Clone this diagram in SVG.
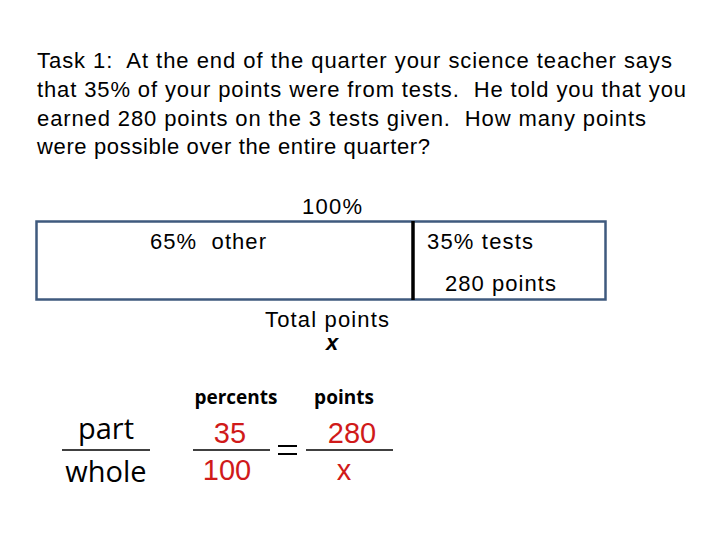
<svg xmlns="http://www.w3.org/2000/svg" width="720" height="540" viewBox="0 0 720 540">
<style>
.t{font-family:"Liberation Sans",Arial,sans-serif;font-size:22px;fill:#000;white-space:pre}
.c{font-family:"Open Sans","Noto Sans",sans-serif;fill:#000}
.r{font-family:"Liberation Sans",Arial,sans-serif;font-size:29px;fill:#d01a1a}
.ln{stroke:#000;stroke-width:1.5}
</style>
<rect width="720" height="540" fill="#fff"/>
<g id="title">
<text class="t" x="37" y="68" textLength="635" lengthAdjust="spacing">Task 1:  At the end of the quarter your science teacher says</text>
<text class="t" x="37" y="97" textLength="649" lengthAdjust="spacing">that 35% of your points were from tests.  He told you that you</text>
<text class="t" x="37" y="126" textLength="609" lengthAdjust="spacing">earned 280 points on the 3 tests given.  How many points</text>
<text class="t" x="37" y="154" textLength="393" lengthAdjust="spacing">were possible over the entire quarter?</text>
</g>
<g id="bar">
<rect x="36.5" y="221.5" width="569" height="78" fill="none" stroke="#3f5a7e" stroke-width="2.5"/>
<line x1="413" y1="221" x2="413" y2="300" stroke="#000" stroke-width="3.5"/>
<text class="t" x="302" y="214" textLength="60" lengthAdjust="spacing">100%</text>
<text class="t" x="150" y="249" textLength="116" lengthAdjust="spacing">65%  other</text>
<text class="t" x="427" y="249" textLength="106" lengthAdjust="spacing">35% tests</text>
<text class="t" x="445" y="291" textLength="111" lengthAdjust="spacing">280 points</text>
<text class="t" x="265" y="327" textLength="124" lengthAdjust="spacing">Total points</text>
<text class="t" x="326" y="350" font-weight="bold" font-style="italic">x</text>
</g>
<g id="formula">
<text class="c" x="106" y="439" font-size="29" text-anchor="middle">part</text>
<line class="ln" x1="62" y1="450" x2="150" y2="450"/>
<text class="c" x="106" y="482" font-size="29" text-anchor="middle">whole</text>
<text class="c" x="236" y="404" font-size="19" font-weight="bold" text-anchor="middle">percents</text>
<text class="c" x="344" y="404" font-size="19" font-weight="bold" text-anchor="middle">points</text>
<text class="r" x="230" y="443" text-anchor="middle">35</text>
<line class="ln" x1="193" y1="450" x2="270" y2="450"/>
<text class="r" x="227" y="480" text-anchor="middle">100</text>
<line x1="278" y1="446" x2="297" y2="446" stroke="#000" stroke-width="2"/>
<line x1="278" y1="454" x2="297" y2="454" stroke="#000" stroke-width="2"/>
<text class="r" x="352" y="443" text-anchor="middle">280</text>
<line class="ln" x1="306" y1="450" x2="393" y2="450"/>
<text class="r" x="344" y="480" text-anchor="middle">x</text>
</g>
</svg>
